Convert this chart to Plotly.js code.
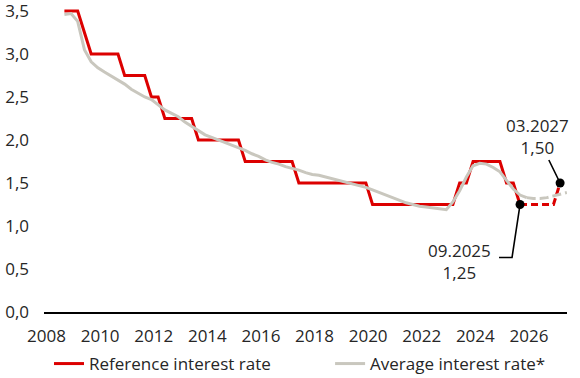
<!DOCTYPE html>
<html>
<head>
<meta charset="utf-8">
<script src="https://cdn.plot.ly/plotly-3.0.1.min.js"></script>
<style>html,body{margin:0;padding:0;background:#fff;}#chart{width:580px;height:378px;}</style>
</head>
<body>
<div id="chart"></div>
<script>
// Quarterly observation dates (first day of Mar/Jun/Sep/Dec)
const quarters = [
  "2008-09-01","2008-12-01",
  "2009-03-01","2009-06-01","2009-09-01","2009-12-01",
  "2010-03-01","2010-06-01","2010-09-01","2010-12-01",
  "2011-03-01","2011-06-01","2011-09-01","2011-12-01",
  "2012-03-01","2012-06-01","2012-09-01","2012-12-01",
  "2013-03-01","2013-06-01","2013-09-01","2013-12-01",
  "2014-03-01","2014-06-01","2014-09-01","2014-12-01",
  "2015-03-01","2015-06-01","2015-09-01","2015-12-01",
  "2016-03-01","2016-06-01","2016-09-01","2016-12-01",
  "2017-03-01","2017-06-01","2017-09-01","2017-12-01",
  "2018-03-01","2018-06-01","2018-09-01","2018-12-01",
  "2019-03-01","2019-06-01","2019-09-01","2019-12-01",
  "2020-03-01","2020-06-01","2020-09-01","2020-12-01",
  "2021-03-01","2021-06-01","2021-09-01","2021-12-01",
  "2022-03-01","2022-06-01","2022-09-01","2022-12-01",
  "2023-03-01","2023-06-01","2023-09-01","2023-12-01",
  "2024-03-01","2024-06-01","2024-09-01","2024-12-01",
  "2025-03-01","2025-06-01","2025-09-01","2025-12-01",
  "2026-03-01","2026-06-01","2026-09-01","2026-12-01",
  "2027-03-01","2027-06-01"
];

// Reference interest rate (%), last value is forecast for 03.2027
const referenceRate = [
  3.5, 3.5,
  3.5, 3.25, 3.0, 3.0,
  3.0, 3.0, 3.0, 2.75,
  2.75, 2.75, 2.75, 2.5,
  2.5, 2.25, 2.25, 2.25,
  2.25, 2.25, 2.0, 2.0,
  2.0, 2.0, 2.0, 2.0,
  2.0, 1.75, 1.75, 1.75,
  1.75, 1.75, 1.75, 1.75,
  1.75, 1.5, 1.5, 1.5,
  1.5, 1.5, 1.5, 1.5,
  1.5, 1.5, 1.5, 1.5,
  1.25, 1.25, 1.25, 1.25,
  1.25, 1.25, 1.25, 1.25,
  1.25, 1.25, 1.25, 1.25,
  1.25, 1.5, 1.5, 1.75,
  1.75, 1.75, 1.75, 1.75,
  1.5, 1.5, 1.25, 1.25,
  1.25, 1.25, 1.25, 1.25,
  1.5, null
];

// Average interest rate* (%)
const averageRate = [
  3.46, 3.47,
  3.38, 3.05, 2.91, 2.84,
  2.79, 2.74, 2.69, 2.65,
  2.59, 2.54, 2.50, 2.47,
  2.41, 2.35, 2.31, 2.27,
  2.21, 2.16, 2.11, 2.06,
  2.03, 2.00, 1.97, 1.94,
  1.91, 1.88, 1.84, 1.81,
  1.77, 1.74, 1.72, 1.69,
  1.67, 1.65, 1.62, 1.60,
  1.59, 1.57, 1.55, 1.53,
  1.51, 1.49, 1.47, 1.45,
  1.42, 1.39, 1.36, 1.33,
  1.30, 1.27, 1.25, 1.23,
  1.22, 1.21, 1.20, 1.19,
  1.28, 1.41, 1.57, 1.70,
  1.73, 1.72, 1.68, 1.63,
  1.53, 1.43, 1.36, 1.33,
  1.32, 1.32, 1.33, 1.35,
  1.37, 1.39
];

const refLastActual = "2025-09-01";
const avgLastActual = "2025-12-01";
const highlightDates = ["2025-09-01", "2027-03-01"];
const yTicks = [0, 0.5, 1.0, 1.5, 2.0, 2.5, 3.0, 3.5];

const RED = "#dc0000";
const GRAY = "#c9c7be";
const FONT = "Open Sans, Noto Sans, sans-serif";
const TXT = "#262626";

function split(dates, vals, cut) {
  const ci = dates.indexOf(cut);
  const a = {x: [], y: []}, f = {x: [], y: []};
  dates.forEach((d, i) => {
    if (vals[i] === null || vals[i] === undefined) return;
    if (i <= ci) { a.x.push(d); a.y.push(vals[i]); }
    if (i >= ci) { f.x.push(d); f.y.push(vals[i]); }
  });
  return [a, f];
}

const [refA, refF] = split(quarters, referenceRate, refLastActual);
const [avgA, avgF] = split(quarters, averageRate, avgLastActual);
const hlY = highlightDates.map(d => referenceRate[quarters.indexOf(d)]);

const traces = [
  {x: refA.x, y: refA.y, type: "scatter", mode: "lines", name: "Reference interest rate",
   line: {color: RED, width: 3}, legend: "legend"},
  {x: refF.x, y: refF.y, type: "scatter", mode: "lines", showlegend: false,
   line: {color: RED, width: 3, dash: "7px,4px"}},
  {x: avgA.x, y: avgA.y, type: "scatter", mode: "lines", name: "Average interest rate*",
   line: {color: GRAY, width: 3}, legend: "legend2"},
  {x: avgF.x, y: avgF.y, type: "scatter", mode: "lines", showlegend: false,
   line: {color: GRAY, width: 3, dash: "9px,4px"}},
  {x: highlightDates, y: hlY, type: "scatter", mode: "markers", showlegend: false,
   marker: {color: "#000", size: 9}}
];

const fmt = v => v.toFixed(2).replace(".", ",");
function lbl(d) { const p = d.split("-"); return p[1] + "." + p[0]; }

const legendBase = {orientation: "h", xanchor: "left", yref: "container", y: 0.037, yanchor: "middle",
  font: {family: FONT, size: 17, color: TXT}, bgcolor: "rgba(0,0,0,0)"};

const layout = {
  width: 580, height: 378,
  margin: {l: 44, r: 13, t: 5, b: 66},
  paper_bgcolor: "#fff", plot_bgcolor: "#fff",
  separators: ", ",
  font: {family: FONT, size: 17, color: TXT},
  showlegend: true,
  legend: Object.assign({}, legendBase, {x: 0.0096}),
  legend2: Object.assign({}, legendBase, {x: 0.547}),
  xaxis: {type: "date", range: ["2007-11-28", "2027-06-03"],
          tick0: "2008-01-01", dtick: "M24", tickformat: "%Y",
          showgrid: false, zeroline: false, showline: true, linecolor: "#000", linewidth: 2,
          ticks: "", ticklabelstandoff: 8, ticklabeloverflow: "allow",
          tickfont: {family: FONT, size: 17, color: TXT}},
  yaxis: {range: [0, 3.57], tickvals: yTicks, tickformat: ".1f",
          showgrid: false, zeroline: false, showline: false, ticks: "",
          ticklabelstandoff: 14, ticklabeloverflow: "allow",
          tickfont: {family: FONT, size: 17, color: TXT}},
  annotations: [
    {x: highlightDates[1], y: hlY[1], xref: "x", yref: "y",
     text: lbl(highlightDates[1]) + "<br>" + fmt(hlY[1]),
     showarrow: true, arrowhead: 0, arrowwidth: 1.6, arrowcolor: "#000",
     ax: -23, ay: -47, font: {family: FONT, size: 17, color: TXT}},
    {x: highlightDates[0], y: hlY[0], xref: "x", yref: "y",
     text: lbl(highlightDates[0]) + "<br>" + fmt(hlY[0]),
     showarrow: false, xshift: -61, yshift: -57,
     font: {family: FONT, size: 17, color: TXT}}
  ],
  shapes: [
    {type: "path", xref: "x", yref: "y", xsizemode: "pixel", ysizemode: "pixel",
     xanchor: highlightDates[0], yanchor: hlY[0],
     path: "M0,0L-8,-53L-21,-53", line: {color: "#000", width: 1.6}}
  ]
};

Plotly.newPlot("chart", traces, layout, {staticPlot: true, displayModeBar: false});
</script>
</body>
</html>
